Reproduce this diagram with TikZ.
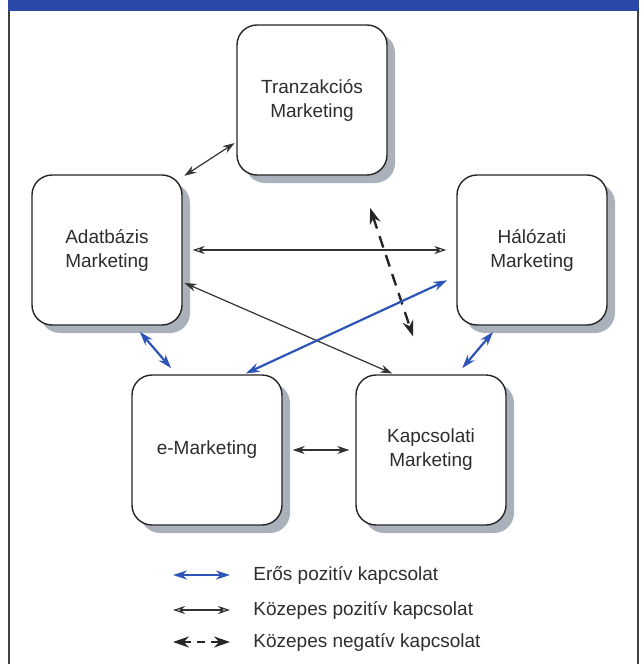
\documentclass[tikz,border=0pt]{standalone}
\usepackage{fontspec}
\setmainfont{Liberation Sans}
\usetikzlibrary{positioning,arrows.meta,shadows}

\definecolor{barblue}{RGB}{42,72,168}
\definecolor{linkblue}{RGB}{45,85,185}
\definecolor{shadowgrey}{RGB}{170,177,186}
\definecolor{textgrey}{RGB}{45,45,45}

\tikzset{
  mbox/.style={draw=black!85, line width=0.7pt, fill=white, rounded corners=10pt,
    minimum width=75pt, minimum height=75pt, align=center, text=textgrey,
    font=\fontsize{9.5}{12}\selectfont,
    drop shadow={shadow xshift=4pt, shadow yshift=-4pt, fill=shadowgrey, opacity=1}},
  strong/.style={linkblue, line width=1.1pt, {Stealth[length=7pt,width=4.5pt]}-{Stealth[length=7pt,width=4.5pt]}},
  medium/.style={black!80, line width=0.6pt, {Stealth[length=6pt,width=4pt]}-{Stealth[length=6pt,width=4pt]}},
  mediumopen/.style={black!80, line width=0.6pt, {Stealth[open,length=6pt,width=4pt]}-{Stealth[open,length=6pt,width=4pt]}},
  negative/.style={black!85, line width=1.2pt, dash pattern=on 6pt off 4pt, {Stealth[length=8pt,width=5.5pt]}-{Stealth[length=8pt,width=5.5pt]}},
  legend/.style={inner sep=0pt, anchor=west, text=textgrey, font=\fontsize{9.5}{12}\selectfont}
}

\begin{document}
\begin{tikzpicture}[x=0.5pt, y=-0.5pt, node distance=11.5pt]
    \useasboundingbox (0,0) rectangle (643,664);
    % frame
    \fill[barblue] (8,0) rectangle (639,11);
    \draw[black!75, line width=0.8pt] (9,11) -- (9,664);
    \draw[black!75, line width=0.8pt] (638,11) -- (638,664);

    % boxes
    \node[mbox] (Tranz) at (312,100) {Tranzakciós\\Marketing};
    \node[mbox] (Adat) at (107,250) {Adatbázis\\Marketing};
    \node[mbox] (Halo) at (532,250) {Hálózati\\Marketing};
    \node[mbox] (EMark) at (207,450) {e-Marketing};
    \node[mbox] (Kapcs) at (431,450) {Kapcsolati\\Marketing};

    % links
    \draw[medium, shorten <=1pt, shorten >=1pt] (Adat.44) -- (Tranz.209);
    \draw[mediumopen, shorten <=5pt, shorten >=5pt] (Adat.east) -- (Halo.west);
    \draw[medium, shorten <=1pt, shorten >=1pt] (Adat.-23) -- (Kapcs.116);
    \draw[medium, shorten <=5pt, shorten >=3pt] (EMark.east) -- (Kapcs.west);
    \draw[negative, shorten <=17pt, shorten >=20pt] (Tranz.-58) -- (Kapcs.94);
    \draw[strong, shorten <=1pt, shorten >=5pt] (EMark.64) -- (Halo.199);
    \draw[strong, shorten <=4pt, shorten >=4pt] (Adat.-70) -- (EMark.112);
    \draw[strong, shorten <=4pt, shorten >=4pt] (Halo.246) -- (Kapcs.71);

    % legend
    \coordinate (legStrongA) at (173,575);
    \coordinate (legStrongB) at (230,575);
    \coordinate (legMediumA) at (173,610);
    \coordinate (legMediumB) at (230,610);
    \coordinate (legNegA) at (173,642);
    \coordinate (legNegB) at (230,642);
    \draw[strong] (legStrongA) -- (legStrongB);
    \draw[mediumopen] (legMediumA) -- (legMediumB);
    \draw[negative, dash pattern=on 4pt off 3pt] (legNegA) -- (legNegB);
    \node[legend] (legStrong) [right=of legStrongB] {Erős pozitív kapcsolat};
    \node[legend] (legMedium) [right=of legMediumB] {Közepes pozitív kapcsolat};
    \node[legend] (legNeg) [right=of legNegB] {Közepes negatív kapcsolat};
\end{tikzpicture}
\end{document}
